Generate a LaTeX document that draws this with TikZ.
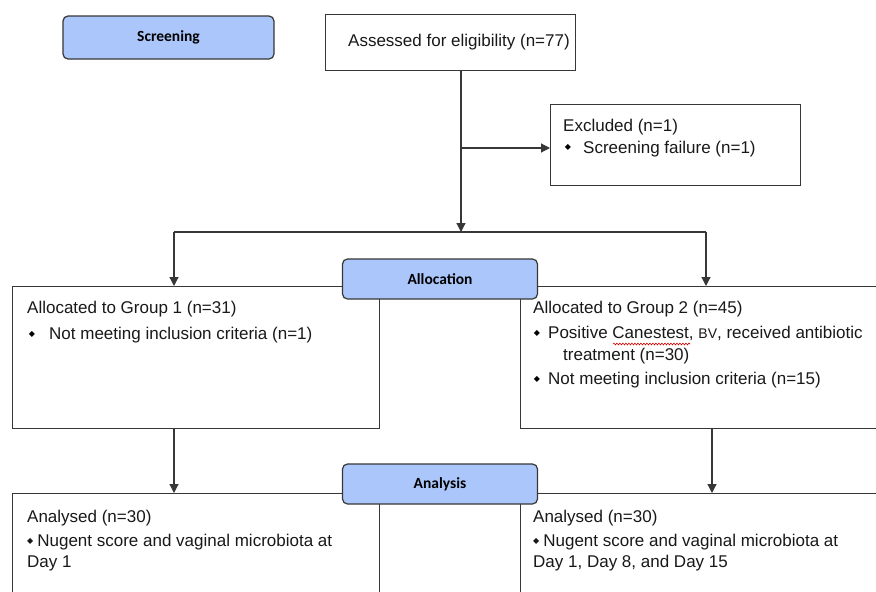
\documentclass[tikz,border=0pt]{standalone}
\usepackage{fontspec}
\setmainfont{Liberation Sans}
\newfontfamily\carlito{Carlito}
\newfontfamily\dejavu{DejaVu Sans}
\usetikzlibrary{arrows.meta,decorations.pathmorphing}
\definecolor{stagefill}{RGB}{170,198,250}
\definecolor{linec}{RGB}{55,55,55}
\newcommand\mybul{{\dejavu\fontsize{8}{8}\selectfont ◆}}
\newcommand\mybulinl{\raisebox{3pt}{\mybul}}
\tikzset{
  box/.style={draw=linec, line width=1.2pt, fill=white, anchor=north west, inner sep=0pt},
  stage/.style={draw=linec, line width=1.2pt, fill=stagefill, rounded corners=5pt,
    minimum width=195pt, minimum height=40pt, inner sep=0pt,
    font=\carlito\bfseries\fontsize{15.5}{18}\selectfont},
  txt/.style={anchor=base west, inner sep=0pt, font=\fontsize{17}{20}\selectfont, text=black!90},
  bul/.style={anchor=center, inner sep=0pt},
  conn/.style={draw=linec, line width=1.2pt},
  arr/.style={conn, -{Triangle[length=9pt,width=9pt]}},
  wavy/.style={draw=red!85!black, line width=0.6pt, decorate,
    decoration={snake, amplitude=0.9pt, segment length=3pt}}
}
\begin{document}
\begin{tikzpicture}[x=1pt,y=-1pt]
\useasboundingbox (0,0) rectangle (876,592);
\clip (0,0) rectangle (876,592);
\fill[white] (0,0) rectangle (876,592);

% boxes
\node[box, minimum width=250pt, minimum height=56pt] (assess) at (325,14) {};
\node[box, minimum width=250pt, minimum height=81pt] (excl) at (550,104) {};
\node[box, minimum width=367pt, minimum height=142pt] (g1) at (12,286) {};
\node[box, minimum width=380pt, minimum height=142pt] (g2) at (520,286) {};
\node[box, minimum width=367pt, minimum height=130pt] (a1) at (12,493) {};
\node[box, minimum width=380pt, minimum height=130pt] (a2) at (520,493) {};

% connectors
\coordinate (split) at (461,232);
\coordinate (exbr) at (461,148);
\coordinate (g1top) at (174,232);
\coordinate (g2top) at (706,232);
\coordinate (g2bot) at (712,428);
\draw[arr] (assess.south -| split) -- (split);
\draw[arr] (exbr) -- (exbr -| excl.west);
\draw[conn] (g1top) -- (g2top);
\draw[arr] (g1top) -- (g1top |- g1.north);
\draw[arr] (g2top) -- (g2top |- g2.north);
\draw[arr] (g1.south -| g1top) -- (a1.north -| g1top);
\draw[arr] (g2bot) -- (g2bot |- a2.north);

% stage labels
\node[stage, minimum width=211pt, minimum height=43pt] (screen) at (168.5,37.5) {Screening};
\node[stage] (alloc) at (440,279) {Allocation};
\node[stage] (anal) at (440,484) {Analysis};

% texts
\node[txt] (assesst) at (348,46) {Assessed for eligibility (n=77)};

\node[txt] (exclt1) at (563,131) {Excluded (n=1)};
\node[bul] (exclb) at (568,147) {\mybul};
\node[txt] (exclt2) at (583,153) {Screening failure (n=1)};

\node[txt] (g1t1) at (27,313) {Allocated to Group 1 (n=31)};
\node[bul] (g1b) at (32,334) {\mybul};
\node[txt] (g1t2) at (49,339) {Not meeting inclusion criteria (n=1)};

\node[txt] (g2t1) at (533,313) {Allocated to Group 2 (n=45)};
\node[bul] (g2b1) at (537,333) {\mybul};
\node[txt] (g2t2) at (548,338) {Positive Canestest, {\fontsize{14}{17}\selectfont BV}, received antibiotic};
\node[txt] (g2t3) at (563,360) {treatment (n=30)};
\node[bul] (g2b2) at (537,379) {\mybul};
\node[txt] (g2t4) at (548,384) {Not meeting inclusion criteria (n=15)};
\coordinate (wv1) at (613,344);
\coordinate (wv2) at (690,344);
\draw[wavy] (wv1) -- (wv2);

\node[txt] (a1t1) at (27,522) {Analysed (n=30)};
\node[txt] (a1t2) at (27,546) {\mybulinl\hspace{4pt}Nugent score and vaginal microbiota at};
\node[txt] (a1t3) at (27,567) {Day 1};

\node[txt] (a2t1) at (533,522) {Analysed (n=30)};
\node[txt] (a2t2) at (533,546) {\mybulinl\hspace{4pt}Nugent score and vaginal microbiota at};
\node[txt] (a2t3) at (533,567) {Day 1, Day 8, and Day 15};
\end{tikzpicture}
\end{document}
